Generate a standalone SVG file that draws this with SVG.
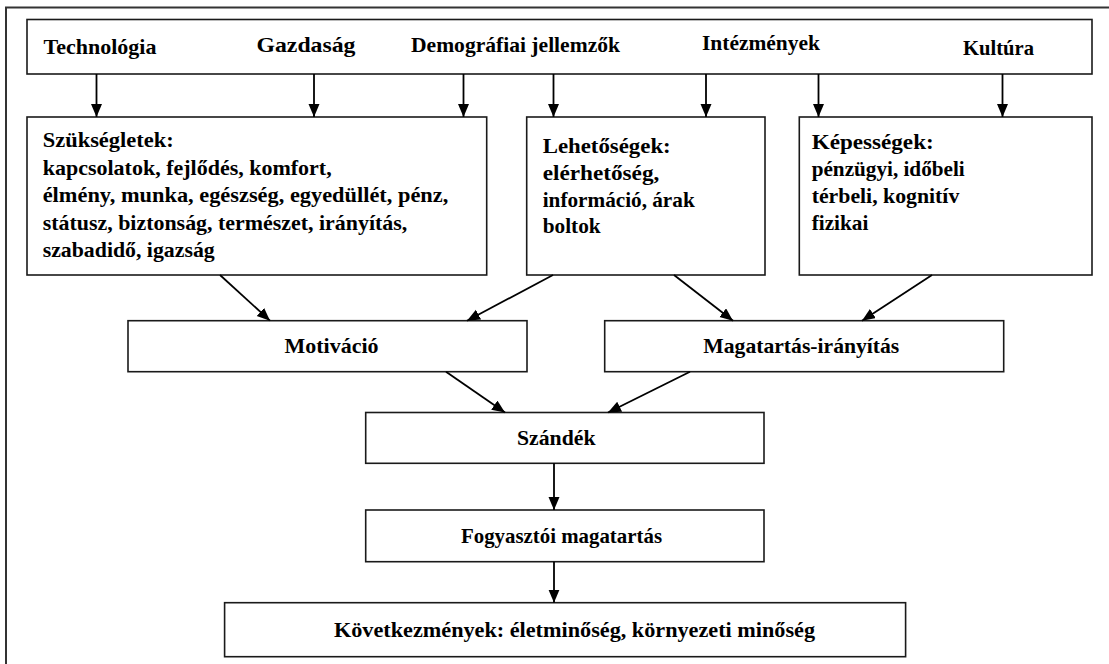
<svg xmlns="http://www.w3.org/2000/svg" width="1109" height="664" viewBox="0 0 1109 664" font-family="Liberation Serif, DejaVu Serif, serif">
  <style>
    .box { fill: #ffffff; stroke: #1a1a1a; stroke-width: 1.6; }
    .t { font-weight: bold; font-size: 22px; fill: #000; }
    .c { stroke: #000; stroke-width: 1.8; fill: none; marker-end: url(#ah); }
    .frame { stroke: #333; stroke-width: 2; fill: none; }
  </style>
  <defs>
    <marker id="ah" markerUnits="userSpaceOnUse" markerWidth="14" markerHeight="12" refX="13" refY="5.5" orient="auto">
      <path d="M0,0 L13,5.5 L0,11 z" fill="#000"/>
    </marker>
  </defs>
  <rect width="1109" height="664" fill="#fff"/>
  <g id="frame">
    <path class="frame" d="M6,664 V7.5 H1109"/>
  </g>

  <g id="n-factors">
    <rect class="box" x="27" y="19.5" width="1065" height="54.5"/>
    <text class="t" x="43.5" y="54" textLength="113" lengthAdjust="spacingAndGlyphs">Technológia</text>
    <text class="t" x="256.5" y="52" textLength="99" lengthAdjust="spacingAndGlyphs">Gazdaság</text>
    <text class="t" x="411" y="52" textLength="209" lengthAdjust="spacingAndGlyphs">Demográfiai jellemzők</text>
    <text class="t" x="702" y="50" textLength="118" lengthAdjust="spacingAndGlyphs">Intézmények</text>
    <text class="t" x="963" y="55" textLength="71" lengthAdjust="spacingAndGlyphs">Kultúra</text>
  </g>

  <g id="n-szuksegletek">
    <rect class="box" x="27" y="117" width="459.7" height="158"/>
    <text class="t" x="42.7" y="147" textLength="131" lengthAdjust="spacingAndGlyphs">Szükségletek:</text>
    <text class="t" x="42.7" y="174.5" textLength="289" lengthAdjust="spacingAndGlyphs">kapcsolatok, fejlődés, komfort,</text>
    <text class="t" x="42.7" y="202" textLength="405.6" lengthAdjust="spacingAndGlyphs">élmény, munka, egészség, egyedüllét, pénz,</text>
    <text class="t" x="42.7" y="229.5" textLength="364.6" lengthAdjust="spacingAndGlyphs">státusz, biztonság, természet, irányítás,</text>
    <text class="t" x="42.7" y="256.5" textLength="172" lengthAdjust="spacingAndGlyphs">szabadidő, igazság</text>
  </g>

  <g id="n-lehetosegek">
    <rect class="box" x="526.7" y="117" width="238.3" height="158"/>
    <text class="t" x="542.7" y="153" textLength="128" lengthAdjust="spacingAndGlyphs">Lehetőségek:</text>
    <text class="t" x="542.7" y="180" textLength="116.6" lengthAdjust="spacingAndGlyphs">elérhetőség,</text>
    <text class="t" x="542.7" y="206.5" textLength="152" lengthAdjust="spacingAndGlyphs">információ, árak</text>
    <text class="t" x="542.7" y="233" textLength="58" lengthAdjust="spacingAndGlyphs">boltok</text>
  </g>

  <g id="n-kepessegek">
    <rect class="box" x="799.3" y="117" width="292.7" height="158"/>
    <text class="t" x="811.7" y="148.5" textLength="122" lengthAdjust="spacingAndGlyphs">Képességek:</text>
    <text class="t" x="811.7" y="175.5" textLength="153" lengthAdjust="spacingAndGlyphs">pénzügyi, időbeli</text>
    <text class="t" x="811.7" y="202.5" textLength="147.6" lengthAdjust="spacingAndGlyphs">térbeli, kognitív</text>
    <text class="t" x="811.7" y="229.5" textLength="56.6" lengthAdjust="spacingAndGlyphs">fizikai</text>
  </g>

  <g id="n-motivacio">
    <rect class="box" x="128" y="320.7" width="399" height="51"/>
    <text class="t" x="284.5" y="353" textLength="94" lengthAdjust="spacingAndGlyphs">Motiváció</text>
  </g>

  <g id="n-magatartas-iranyitas">
    <rect class="box" x="604.7" y="320.7" width="399" height="51"/>
    <text class="t" x="703.3" y="353" textLength="196" lengthAdjust="spacingAndGlyphs">Magatartás-irányítás</text>
  </g>

  <g id="n-szandek">
    <rect class="box" x="365.7" y="412.5" width="398.3" height="50.8"/>
    <text class="t" x="517" y="445" textLength="78.5" lengthAdjust="spacingAndGlyphs">Szándék</text>
  </g>

  <g id="n-fogyasztoi">
    <rect class="box" x="365.7" y="510" width="398.3" height="51.7"/>
    <text class="t" x="461" y="543" textLength="201" lengthAdjust="spacingAndGlyphs">Fogyasztói magatartás</text>
  </g>

  <g id="n-kovetkezmenyek">
    <rect class="box" x="224.6" y="602.7" width="681" height="54"/>
    <text class="t" x="334" y="637" textLength="481" lengthAdjust="spacingAndGlyphs">Következmények: életminőség, környezeti minőség</text>
  </g>

  <g id="connectors">
    <line class="c" x1="96.5" y1="74" x2="96.5" y2="117"/>
    <line class="c" x1="314" y1="74" x2="314" y2="117"/>
    <line class="c" x1="463.5" y1="74" x2="463.5" y2="117"/>
    <line class="c" x1="553.5" y1="74" x2="553.5" y2="117"/>
    <line class="c" x1="706" y1="74" x2="706" y2="117"/>
    <line class="c" x1="818.5" y1="74" x2="818.5" y2="117"/>
    <line class="c" x1="1002.5" y1="74" x2="1002.5" y2="117"/>
    <line class="c" x1="220" y1="275" x2="270" y2="320.7"/>
    <line class="c" x1="553" y1="275" x2="467" y2="320.7"/>
    <line class="c" x1="674" y1="275" x2="733" y2="320.7"/>
    <line class="c" x1="932" y1="275" x2="862" y2="320.7"/>
    <line class="c" x1="446" y1="371.7" x2="505" y2="412.5"/>
    <line class="c" x1="690" y1="371.7" x2="608" y2="412.5"/>
    <line class="c" x1="554" y1="463.3" x2="554" y2="510"/>
    <line class="c" x1="554" y1="561.7" x2="554" y2="602.7"/>
  </g>
</svg>
